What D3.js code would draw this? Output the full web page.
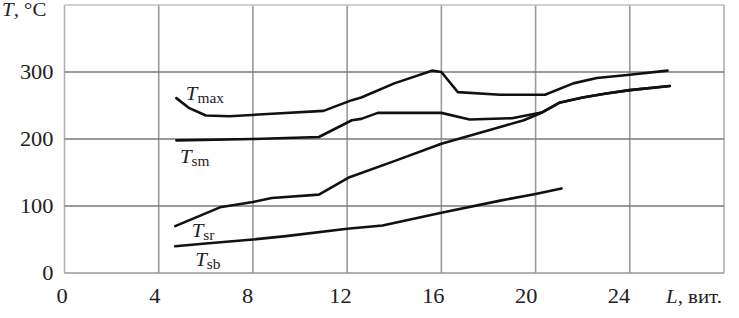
<!DOCTYPE html>
<html>
<head>
<meta charset="utf-8">
<script src="https://cdn.jsdelivr.net/npm/d3@7"></script>
<style>
  body { margin: 0; background: #fff; }
</style>
</head>
<body>
<div id="chart"></div>
<script>
// winding count L and temperatures (deg C)
var tmaxL = [4.75, 5.3, 6.0, 7.0, 9.0, 11.0, 12.2, 12.6, 14.0, 15.6, 16.0, 16.7, 18.5, 20.4, 21.6, 22.6, 24.0, 25.6];
var tmaxT = [261, 246, 235, 234, 238, 242, 258, 262, 283, 302, 300, 270, 266, 266, 283, 291, 296, 302];

var tsmL = [4.75, 8.0, 10.8, 12.2, 12.6, 13.3, 16.0, 17.2, 19.0, 20.3, 21.0, 22.0, 23.0, 24.0, 25.7];
var tsmT = [198, 200, 203, 228, 230, 239, 239, 229, 231, 240, 254, 262, 268, 273, 279];

var tsrL = [4.7, 6.6, 8.0, 8.8, 10.8, 12.1, 14.0, 16.0, 18.5, 19.5, 20.3, 21.0, 22.0, 23.0, 24.0, 25.7];
var tsrT = [70, 98, 106, 112, 117, 143, 167, 193, 218, 228, 240, 254, 262, 268, 273, 279];

var tsbL = [4.7, 6.0, 8.0, 9.4, 12.0, 13.5, 16.0, 18.5, 20.0, 21.1];
var tsbT = [40, 44, 50, 55, 66, 71, 90, 108, 118, 126];

var xTicks = [0, 4, 8, 12, 16, 20, 24];
var yTicks = [0, 100, 200, 300];
var seriesNames = ["max", "sm", "sr", "sb"];

var svgWidth = 739;
var svgHeight = 318;
var margin = { top: 5, right: 15, bottom: 45, left: 64.5 };
var width = svgWidth - margin.left - margin.right;
var height = svgHeight - margin.top - margin.bottom;
var serif = "Liberation Serif";

var svg = d3.select("#chart").append("svg")
  .attr("width", svgWidth)
  .attr("height", svgHeight)
  .attr("font-family", serif);

var g = svg.append("g")
  .attr("transform", `translate(${margin.left}, ${margin.top})`);

var x = d3.scaleLinear().domain([0, 28]).range([0, width]);
var y = d3.scaleLinear().domain([0, 400]).range([height, 0]);
// tick labels in the figure sit a little left of their grid lines
var xLab = d3.scaleLinear().domain([0, 24]).range([-2.5, 554.5]);

// grid
g.selectAll(".vgrid").data(xTicks.concat([28])).enter()
  .append("line")
  .attr("x1", d => x(d)).attr("x2", d => x(d))
  .attr("y1", 0).attr("y2", height)
  .attr("stroke", d => (d === 0 || d === 28) ? "#b0b0b0" : "#9a9a9a")
  .attr("stroke-width", 1.6);

g.selectAll(".hgrid").data(yTicks.concat([400])).enter()
  .append("line")
  .attr("x1", 0).attr("x2", width)
  .attr("y1", d => y(d)).attr("y2", d => y(d))
  .attr("stroke", d => d === 400 ? "#c0c0c0" : (d === 0 ? "#999" : "#7a7a7a"))
  .attr("stroke-width", 1.6);

// tick labels (the scan is a bit stretched sideways)
g.selectAll(".ylab").data(yTicks).enter()
  .append("text")
  .attr("transform", d => `translate(-11, ${y(d)}) scale(1.12, 1)`)
  .attr("dy", "0.34em")
  .attr("text-anchor", "end")
  .attr("font-size", "20px")
  .attr("fill", "#222")
  .text(d => d);

g.selectAll(".xlab").data(xTicks).enter()
  .append("text")
  .attr("transform", d => `translate(${xLab(d)}, ${height + 30}) scale(1.12, 1)`)
  .attr("text-anchor", "middle")
  .attr("font-size", "20px")
  .attr("fill", "#222")
  .text(d => d);

// axis titles
var yTitle = svg.append("text")
  .attr("transform", "translate(2, 16) scale(1.1, 1)")
  .attr("font-size", "19px").attr("fill", "#222");
yTitle.append("tspan").attr("font-style", "italic").text("T");
yTitle.append("tspan").text(", °C");

var xTitle = svg.append("text")
  .attr("transform", `translate(666, ${height + margin.top + 30}) scale(1.1, 1)`)
  .attr("font-size", "19px").attr("fill", "#222");
xTitle.append("tspan").attr("font-style", "italic").text("L");
xTitle.append("tspan").text(", вит.");

// curves
var series = [
  { name: seriesNames[0], L: tmaxL, T: tmaxT },
  { name: seriesNames[1], L: tsmL, T: tsmT },
  { name: seriesNames[2], L: tsrL, T: tsrT },
  { name: seriesNames[3], L: tsbL, T: tsbT }
];

var line = d3.line()
  .x(d => x(d[0]))
  .y(d => y(d[1]));

g.selectAll(".curve").data(series).enter()
  .append("path")
  .attr("d", s => line(d3.zip(s.L, s.T)))
  .attr("fill", "none")
  .attr("stroke", "#111")
  .attr("stroke-width", 2.6)
  .attr("stroke-linejoin", "round")
  .attr("stroke-linecap", "round");

// curve labels: anchor of the italic T, in data units
var labelAt = { max: [5.15, 258], sm: [4.9, 164], sr: [5.4, 53], sb: [5.55, 11] };

series.forEach(function(s) {
  var t = g.append("text")
    .attr("transform", `translate(${x(labelAt[s.name][0])}, ${y(labelAt[s.name][1])}) scale(1.1, 1)`)
    .attr("font-size", "19px")
    .attr("fill", "#222");
  t.append("tspan").attr("font-style", "italic").text("T");
  t.append("tspan").attr("font-size", "14px").attr("dy", 3).text(s.name);
});
</script>
</body>
</html>
